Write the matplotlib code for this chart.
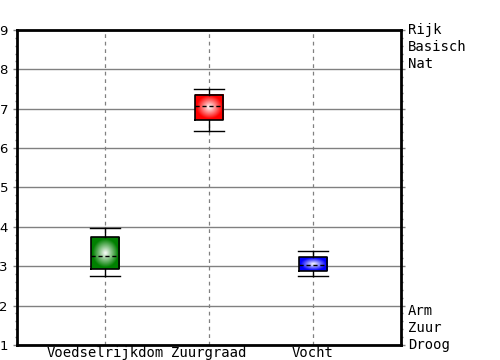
import numpy as np
import matplotlib
matplotlib.use("Agg")
import matplotlib.pyplot as plt
from matplotlib.ticker import MultipleLocator

# data
categories = ["Voedselrijkdom", "Zuurgraad", "Vocht"]
whis_low = [2.74, 6.43, 2.74]
q1 = [2.92, 6.71, 2.88]
median = [3.27, 7.06, 3.02]
q3 = [3.73, 7.36, 3.23]
whis_high = [3.96, 7.49, 3.38]
box_colors = ["#008000", "#ff0000", "#0000ff"]
top_labels = ["Rijk", "Basisch", "Nat"]
bottom_labels = ["Arm", "Zuur", "Droog"]

fig = plt.figure(figsize=(5, 3.6), dpi=100)
ax = fig.add_axes([0.034, 0.0417, 0.768, 0.875])

pos = np.arange(1, len(categories) + 1)
width = 0.27

# radial gradient fill, white in the middle
n = 64
gx, gy = np.meshgrid(np.linspace(-1, 1, n), np.linspace(-1, 1, n))
r = np.sqrt(gx ** 2 + gy ** 2)
t = np.clip(r / 0.9, 0, 1)
for i, c in enumerate(box_colors):
    rgb = np.array(matplotlib.colors.to_rgb(c))
    img = (1 - t[..., None]) * np.ones(3) + t[..., None] * rgb
    ax.imshow(img, extent=[pos[i] - width / 2, pos[i] + width / 2, q1[i], q3[i]],
              aspect="auto", zorder=3, interpolation="bilinear")

stats = []
for i in range(len(categories)):
    stats.append(dict(med=median[i], q1=q1[i], q3=q3[i],
                      whislo=whis_low[i], whishi=whis_high[i], fliers=[]))
ax.bxp(stats, positions=pos, widths=width, showfliers=False, manage_ticks=False,
       boxprops=dict(color="black", linewidth=1.2),
       medianprops=dict(color="black", linestyle=(0, (3, 2)), linewidth=1),
       whiskerprops=dict(color="black", linewidth=1),
       capprops=dict(color="black", linewidth=1), capwidths=width * 1.05)
for art in ax.lines:
    art.set_zorder(4)

ax.set_xlim(1 - 88 / 104, 3 + 88 / 104)
ax.set_ylim(1, 9)
ax.set_xticks(pos)
ax.set_xticklabels(categories, family="DejaVu Sans Mono", fontsize=10)
ax.yaxis.set_major_locator(MultipleLocator(1))
ax.yaxis.set_minor_locator(MultipleLocator(0.2))
ax.tick_params(axis="x", length=0, pad=1)
ax.tick_params(axis="y", which="major", direction="out", length=3, width=1,
               labelsize=9.5, pad=3.5, right=True, color="#808080")
ax.tick_params(axis="y", which="minor", direction="out", length=1.5, width=1,
               right=True, color="#808080")

ax.grid(axis="y", color="#808080", linewidth=1, linestyle="-")
ax.grid(axis="x", color="#808080", linewidth=0.9, linestyle=(0, (3, 3)))
ax.set_axisbelow(True)

for s in ax.spines.values():
    s.set_linewidth(2)
    s.set_color("black")

for k, lab in enumerate(top_labels):
    ax.annotate(lab, xy=(1, 9), xycoords=("axes fraction", "data"),
                xytext=(5, -12.2 * k), textcoords="offset points",
                va="center", ha="left", family="DejaVu Sans Mono", fontsize=10,
                annotation_clip=False)
for k, lab in enumerate(bottom_labels):
    ax.annotate(lab, xy=(1, 1), xycoords=("axes fraction", "data"),
                xytext=(5, 12.2 * (2 - k)), textcoords="offset points",
                va="center", ha="left", family="DejaVu Sans Mono", fontsize=10,
                annotation_clip=False)

fig.savefig("out.png", dpi=100)
